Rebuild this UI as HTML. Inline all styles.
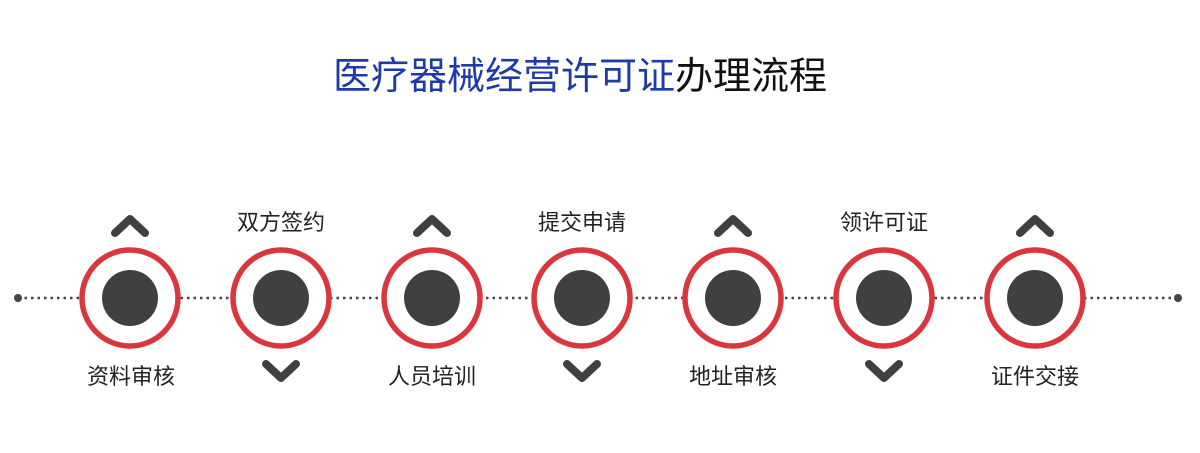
<!DOCTYPE html>
<html><head><meta charset="utf-8"><style>
body{margin:0;width:1200px;height:453px;background:#fff;overflow:hidden;font-family:"Liberation Sans","Noto Sans CJK SC",sans-serif;}
</style></head><body>
<svg width="1200" height="453" xmlns="http://www.w3.org/2000/svg" style="position:absolute;left:0;top:0">
<text x="580" y="89" text-anchor="middle" font-size="38" font-family="Noto Sans CJK SC, sans-serif"><tspan fill="#1f3aa8">医疗器械经营许可证</tspan><tspan fill="#111">办理流程</tspan></text>
<line x1="18" y1="298" x2="1178" y2="298" stroke="#444" stroke-width="2.5" stroke-dasharray="2.5 4"/>
<circle cx="18" cy="298" r="4" fill="#444"/>
<circle cx="1178" cy="298" r="4" fill="#444"/>
<g font-size="22" fill="#222" text-anchor="middle" font-family="Noto Sans CJK SC, sans-serif">
<text x="131" y="384">资料审核</text>
<text x="281" y="230">双方签约</text>
<text x="432" y="384">人员培训</text>
<text x="582" y="230">提交申请</text>
<text x="733" y="384">地址审核</text>
<text x="884" y="230">领许可证</text>
<text x="1035" y="384">证件交接</text>
</g>
<g stroke="#404040" stroke-width="8" stroke-linecap="round" stroke-linejoin="round" fill="none">
<polyline points="115,233 130,219 145,233"/>
<polyline points="266,364 281,378 296,364"/>
<polyline points="417,233 432,219 447,233"/>
<polyline points="567,364 582,378 597,364"/>
<polyline points="718,233 733,219 748,233"/>
<polyline points="869,364 884,378 899,364"/>
<polyline points="1020,233 1035,219 1050,233"/>
</g>
<g>
<g transform="translate(130,298)"><circle r="48" fill="#fff" stroke="#d9363e" stroke-width="5.5"/><circle r="28" fill="#404040"/></g>
<g transform="translate(281,298)"><circle r="48" fill="#fff" stroke="#d9363e" stroke-width="5.5"/><circle r="28" fill="#404040"/></g>
<g transform="translate(432,298)"><circle r="48" fill="#fff" stroke="#d9363e" stroke-width="5.5"/><circle r="28" fill="#404040"/></g>
<g transform="translate(582,298)"><circle r="48" fill="#fff" stroke="#d9363e" stroke-width="5.5"/><circle r="28" fill="#404040"/></g>
<g transform="translate(733,298)"><circle r="48" fill="#fff" stroke="#d9363e" stroke-width="5.5"/><circle r="28" fill="#404040"/></g>
<g transform="translate(884,298)"><circle r="48" fill="#fff" stroke="#d9363e" stroke-width="5.5"/><circle r="28" fill="#404040"/></g>
<g transform="translate(1035,298)"><circle r="48" fill="#fff" stroke="#d9363e" stroke-width="5.5"/><circle r="28" fill="#404040"/></g>
</g>
</svg>
</body></html>
